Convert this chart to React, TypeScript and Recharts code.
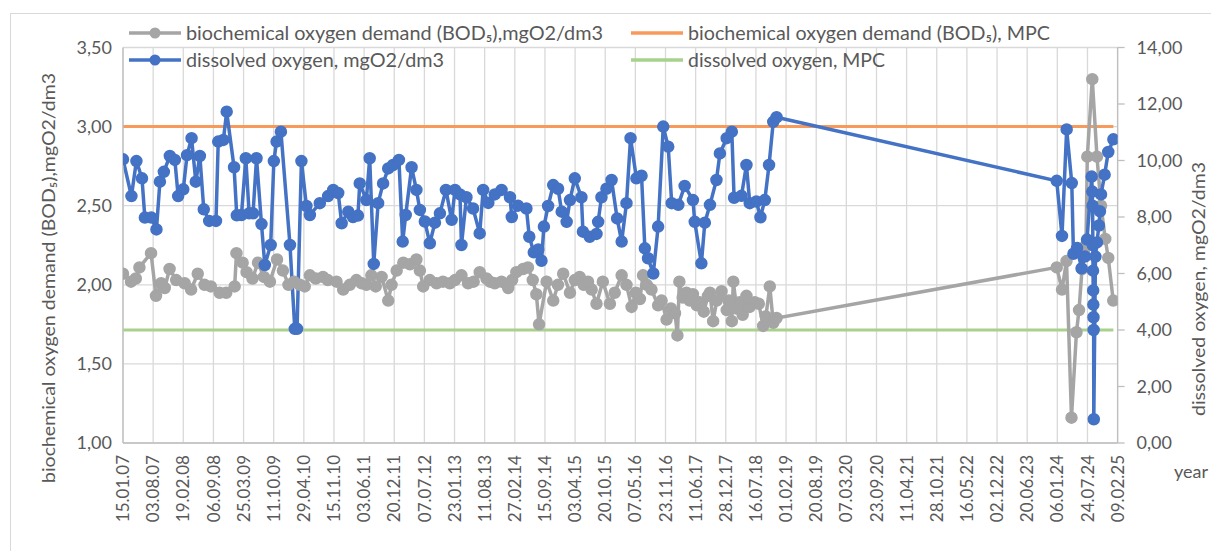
import React from "react";
import { LineChart, Line, XAxis, YAxis, CartesianGrid } from "recharts";

// ---------- data ----------
const xTickLabels = [
  "15.01.07", "03.08.07", "19.02.08", "06.09.08", "25.03.09", "11.10.09", "29.04.10",
  "15.11.10", "03.06.11", "20.12.11", "07.07.12", "23.01.13", "11.08.13", "27.02.14",
  "15.09.14", "03.04.15", "20.10.15", "07.05.16", "23.11.16", "11.06.17", "28.12.17",
  "16.07.18", "01.02.19", "20.08.19", "07.03.20", "23.09.20", "11.04.21", "28.10.21",
  "16.05.22", "02.12.22", "20.06.23", "06.01.24", "24.07.24", "09.02.25",
];
const leftTicks = [1, 1.5, 2, 2.5, 3, 3.5];
const rightTicks = [0, 2, 4, 6, 8, 10, 12, 14];

// dissolved oxygen, mgO2/dm3 (right axis)
const doDates = [
  "2007-01-15", "2007-03-12", "2007-04-14", "2007-05-21", "2007-06-09", "2007-07-22", "2007-08-25",
  "2007-09-17", "2007-10-13", "2007-11-22", "2007-12-25", "2008-01-16", "2008-02-19", "2008-03-15",
  "2008-04-14", "2008-05-12", "2008-06-08", "2008-07-04", "2008-08-09", "2008-09-23", "2008-10-08",
  "2008-11-11", "2008-12-03", "2009-01-21", "2009-02-08", "2009-03-11", "2009-04-09", "2009-05-01",
  "2009-05-27", "2009-06-19", "2009-07-22", "2009-08-13", "2009-09-21", "2009-10-12", "2009-10-30",
  "2009-11-28", "2010-01-27", "2010-02-28", "2010-03-15", "2010-04-13", "2010-05-16", "2010-06-08",
  "2010-08-13", "2010-10-07", "2010-11-10", "2010-12-13", "2011-01-05", "2011-02-18", "2011-03-21",
  "2011-04-23", "2011-05-05", "2011-06-18", "2011-07-10", "2011-08-06", "2011-09-04", "2011-10-07",
  "2011-11-10", "2011-12-12", "2012-01-20", "2012-02-14", "2012-03-05", "2012-04-13", "2012-05-15",
  "2012-06-07", "2012-07-10", "2012-08-12", "2012-09-15", "2012-10-18", "2012-11-27", "2013-01-04",
  "2013-01-26", "2013-02-28", "2013-03-10", "2013-04-12", "2013-05-26", "2013-07-09", "2013-08-01",
  "2013-09-04", "2013-10-17", "2013-12-01", "2014-01-26", "2014-02-07", "2014-03-20", "2014-05-15",
  "2014-06-03", "2014-07-03", "2014-08-02", "2014-08-23", "2014-09-08", "2014-10-06", "2014-11-09",
  "2014-12-11", "2015-01-04", "2015-02-06", "2015-02-28", "2015-04-01", "2015-05-15", "2015-05-25",
  "2015-07-09", "2015-08-23", "2015-09-03", "2015-09-25", "2015-10-28", "2015-12-01", "2016-01-07",
  "2016-02-06", "2016-03-09", "2016-04-05", "2016-05-14", "2016-06-17", "2016-07-09", "2016-07-30",
  "2016-09-03", "2016-10-05", "2016-11-08", "2016-12-11", "2017-01-03", "2017-02-16", "2017-03-30",
  "2017-05-24", "2017-06-05", "2017-07-19", "2017-08-11", "2017-09-14", "2017-10-27", "2017-11-19",
  "2018-01-03", "2018-02-06", "2018-02-21", "2018-04-11", "2018-05-14", "2018-06-05", "2018-07-19",
  "2018-08-15", "2018-09-13", "2018-10-11", "2018-11-08", "2018-11-30",
  "2024-01-02", "2024-02-06", "2024-03-08", "2024-04-11", "2024-04-22", "2024-05-16", "2024-06-15",
  "2024-07-07", "2024-07-21", "2024-08-21", "2024-08-25", "2024-08-27", "2024-08-29", "2024-08-30",
  "2024-08-31", "2024-09-01", "2024-09-02", "2024-09-03", "2024-09-04", "2024-09-15", "2024-09-25",
  "2024-10-08", "2024-10-15", "2024-10-22", "2024-11-15", "2024-12-09", "2025-01-12",
];
const doValues = [
  10.04, 8.74, 9.98, 9.37, 7.98, 7.98, 7.56,
  9.25, 9.6, 10.16, 10.02, 8.74, 8.98, 10.19,
  10.79, 9.25, 10.16, 8.27, 7.86, 7.86, 10.67,
  10.73, 11.73, 9.76, 8.06, 8.07, 10.08, 8.13,
  8.13, 10.08, 7.75, 6.3, 7.01, 9.98, 10.67,
  11.02, 7.01, 4.04, 4.04, 9.98, 8.39, 8.07,
  8.49, 8.74, 8.96, 8.85, 7.78, 8.19, 8.0,
  8.05, 9.19, 8.6, 10.08, 6.34, 8.49, 9.19,
  9.72, 9.84, 10.02, 7.13, 8.07, 9.76, 8.96,
  8.25, 7.84, 7.07, 7.8, 8.13, 8.96, 7.9,
  8.96, 8.8, 7.01, 8.7, 8.3, 7.42, 8.96,
  8.5, 8.8, 8.96, 8.7, 8.0, 8.4, 8.3,
  7.3, 6.75, 6.85, 6.45, 7.66, 8.39, 9.13,
  9.0, 8.19, 7.83, 8.6, 9.37, 8.7, 7.48,
  7.3, 7.4, 7.83, 8.7, 9.0, 9.31, 7.95,
  7.13, 8.49, 10.79, 9.37, 9.46, 6.89, 6.54,
  6.0, 7.66, 11.2, 10.49, 8.49, 8.43, 9.1,
  8.6, 7.83, 6.36, 7.8, 8.43, 9.31, 10.25,
  10.79, 11.02, 8.68, 8.75, 9.84, 8.49, 8.55,
  7.99, 8.6, 9.84, 11.37, 11.53,
  9.28, 7.33, 11.1, 9.2, 6.7, 6.9, 6.18,
  6.6, 7.2, 9.43, 8.9, 8.4, 7.0, 6.1,
  5.4, 4.9, 4.45, 4.0, 0.84, 6.6, 7.1,
  7.7, 8.2, 8.8, 9.5, 10.3, 10.75,
];

// biochemical oxygen demand (BOD5), mgO2/dm3 (left axis)
const bodDates = [
  "2007-01-15", "2007-03-09", "2007-04-10", "2007-05-04", "2007-07-20", "2007-08-22", "2007-09-25",
  "2007-10-19", "2007-11-20", "2008-01-03", "2008-02-28", "2008-04-11", "2008-05-25", "2008-07-09",
  "2008-08-20", "2008-10-17", "2008-11-30", "2009-01-25", "2009-02-06", "2009-03-19", "2009-04-14",
  "2009-05-23", "2009-06-29", "2009-08-07", "2009-09-16", "2009-11-02", "2009-12-11", "2010-01-17",
  "2010-02-23", "2010-04-02", "2010-05-05", "2010-06-08", "2010-07-17", "2010-09-03", "2010-10-05",
  "2010-12-02", "2011-01-15", "2011-02-28", "2011-04-13", "2011-05-18", "2011-06-18", "2011-07-21",
  "2011-08-19", "2011-09-27", "2011-11-10", "2011-12-02", "2012-01-05", "2012-02-18", "2012-04-02",
  "2012-05-15", "2012-06-07", "2012-06-29", "2012-08-12", "2012-09-26", "2012-11-07", "2012-12-23",
  "2013-01-26", "2013-03-10", "2013-04-23", "2013-05-30", "2013-07-09", "2013-08-23", "2013-09-15",
  "2013-10-17", "2013-12-01", "2014-01-14", "2014-02-09", "2014-03-09", "2014-04-23", "2014-05-25",
  "2014-06-26", "2014-07-20", "2014-08-07", "2014-09-26", "2014-11-09", "2014-12-10", "2015-01-14",
  "2015-02-28", "2015-04-01", "2015-05-03", "2015-05-30", "2015-06-28", "2015-07-22", "2015-08-23",
  "2015-10-04", "2015-11-20", "2015-12-22", "2016-02-06", "2016-03-09", "2016-04-12", "2016-05-10",
  "2016-06-06", "2016-06-27", "2016-07-22", "2016-08-22", "2016-10-05", "2016-10-28", "2016-11-30",
  "2016-12-29", "2017-01-25", "2017-02-10", "2017-02-23", "2017-03-17", "2017-04-11", "2017-05-03",
  "2017-05-24", "2017-06-19", "2017-07-08", "2017-08-04", "2017-09-01", "2017-09-14", "2017-10-05",
  "2017-10-29", "2017-11-30", "2018-01-03", "2018-01-18", "2018-02-06", "2018-02-16", "2018-03-10",
  "2018-03-30", "2018-04-19", "2018-05-14", "2018-06-05", "2018-07-08", "2018-08-04", "2018-09-02",
  "2018-09-20", "2018-10-16", "2018-11-08", "2018-11-30",
  "2024-01-02", "2024-02-06", "2024-03-07", "2024-04-09", "2024-05-12", "2024-05-29", "2024-06-18",
  "2024-07-01", "2024-07-14", "2024-07-23", "2024-08-25", "2024-09-25", "2024-10-22", "2024-11-19",
  "2024-12-09", "2025-01-11",
];
const bodValues = [
  2.07, 2.02, 2.04, 2.11, 2.2, 1.93, 2.01,
  1.98, 2.1, 2.03, 2.01, 1.97, 2.07, 2.0,
  1.99, 1.95, 1.95, 1.99, 2.2, 2.14, 2.08,
  2.04, 2.14, 2.05, 2.02, 2.16, 2.09, 2.0,
  2.02, 2.0, 1.99, 2.06, 2.04, 2.05, 2.03,
  2.02, 1.97, 2.0, 2.03, 2.01, 2.0, 2.06,
  1.99, 2.05, 1.9, 2.0, 2.09, 2.14, 2.13,
  2.16, 2.09, 1.99, 2.03, 2.01, 2.02, 2.01,
  2.03, 2.06, 2.01, 2.02, 2.08, 2.04, 2.02,
  2.01, 2.02, 1.98, 2.03, 2.08, 2.1, 2.11,
  2.03, 1.94, 1.75, 2.02, 1.9, 2.0, 2.07,
  1.95, 2.03, 2.05, 2.0, 2.02, 1.97, 1.88,
  2.02, 1.88, 1.95, 2.06, 2.0, 1.86, 1.95,
  1.91, 2.06, 2.0, 1.97, 1.87, 1.9, 1.78,
  1.85, 1.82, 1.68, 2.02, 1.92, 1.95, 1.9,
  1.94, 1.87, 1.89, 1.83, 1.93, 1.95, 1.77,
  1.9, 1.96, 1.84, 1.9, 1.77, 2.02, 1.85,
  1.89, 1.81, 1.93, 1.86, 1.89, 1.88, 1.74,
  1.8, 1.99, 1.76, 1.79,
  2.11, 1.97, 2.15, 1.16, 1.7, 1.84, 2.1,
  2.2, 2.25, 2.81, 3.3, 2.81, 2.5, 2.29,
  2.17, 1.9,
];

// maximum permissible concentrations
const mpcDates = ["2007-01-15", "2025-01-12"];
const bodMpcValues = [3.0, 3.0];
const doMpcValues = [4.0, 4.0];

// ---------- helpers ----------
const GRAY = "#A5A5A5";
const BLUE = "#4472C4";
const ORANGE = "#F79A5B";
const GREEN = "#A9D18E";
const TEXT = "#595959";
const FONT = "Lato, 'Open Sans', sans-serif";

const parseTick = (s: string) => {
  const [d, m, y] = s.split(".").map(Number);
  return Date.UTC(2000 + y, m - 1, d);
};
const xTicks = xTickLabels.map(parseTick);
const labelByTick = new Map<number, string>(xTicks.map((t, i) => [t, xTickLabels[i]]));

const zip = (dates: string[], values: number[]) =>
  dates.map((d, i) => ({ t: Date.parse(d), v: values[i] }));

const doData = zip(doDates, doValues);
const bodData = zip(bodDates, bodValues);
const bodMpcData = zip(mpcDates, bodMpcValues);
const doMpcData = zip(mpcDates, doMpcValues);

const fmt = (v: number) => v.toFixed(2).replace(".", ",");

const XTick = (props: any) => {
  const { x, y, payload } = props;
  return (
    <text
      x={x}
      y={y}
      transform={`rotate(-90 ${x} ${y})`}
      textAnchor="end"
      dy="0.36em"
      fill={TEXT}
      fontSize={17}
      fontFamily={FONT}
    >
      {labelByTick.get(payload.value) ?? ""}
    </text>
  );
};

const LegendRow = ({ y, items }: { y: number; items: { x: number; color: string; dot: boolean; label: string; len: number }[] }) => (
  <g>
    {items.map((it, i) => (
      <g key={i}>
        <line x1={it.x} x2={it.x + 52} y1={y} y2={y} stroke={it.color} strokeWidth={3.5} />
        {it.dot && <circle cx={it.x + 26} cy={y} r={5.5} fill={it.color} />}
        <text
          x={it.x + 57}
          y={y}
          dy="0.35em"
          fill={TEXT}
          fontSize={19}
          fontFamily={FONT}
          textLength={it.len}
          lengthAdjust="spacingAndGlyphs"
        >
          {it.label}
        </text>
      </g>
    ))}
  </g>
);

export default function App() {
  return (
    <div
      style={{
        position: "absolute",
        left: 0,
        top: 0,
        width: 1211,
        height: 551,
        overflow: "hidden",
        background: "#fff",
      }}
    >
      <div
        style={{
          position: "absolute",
          left: 10,
          top: 13,
          width: 1400,
          height: 800,
          border: "1px solid #D9D9D9",
          boxSizing: "border-box",
        }}
      />
      <div style={{ position: "absolute", left: 0, top: 0 }}>
        <LineChart
          width={1211}
          height={551}
          margin={{ top: 47.5, right: 33.4, bottom: 18, left: 63 }}
        >
          <CartesianGrid stroke="#D9D9D9" strokeWidth={1.3} yAxisId="left" />
          <XAxis
            dataKey="t"
            type="number"
            domain={[xTicks[0], xTicks[xTicks.length - 1]]}
            ticks={xTicks}
            interval={0}
            allowDataOverflow
            height={90}
            tickLine={false}
            tickSize={0}
            tickMargin={12}
            stroke="#BFBFBF"
            strokeWidth={1.3}
            tick={<XTick />}
          />
          <YAxis
            yAxisId="left"
            orientation="left"
            width={60}
            domain={[1, 3.5]}
            ticks={leftTicks}
            interval={0}
            tickFormatter={fmt}
            tickLine={false}
            tickSize={0}
            tickMargin={11}
            stroke="#BFBFBF"
            strokeWidth={1.3}
            tick={{ fill: TEXT, fontSize: 18, fontFamily: FONT }}
          />
          <YAxis
            yAxisId="right"
            orientation="right"
            width={60}
            domain={[0, 14]}
            ticks={rightTicks}
            interval={0}
            tickFormatter={fmt}
            tickSize={7}
            tickMargin={12}
            stroke="#BFBFBF"
            strokeWidth={1.3}
            tick={{ fill: TEXT, fontSize: 18, fontFamily: FONT }}
          />
          <Line
            data={bodMpcData}
            dataKey="v"
            yAxisId="left"
            type="linear"
            stroke={ORANGE}
            strokeWidth={3}
            dot={false}
            isAnimationActive={false}
            name="biochemical oxygen demand (BOD₅), MPC"
          />
          <Line
            data={doMpcData}
            dataKey="v"
            yAxisId="right"
            type="linear"
            stroke={GREEN}
            strokeWidth={3}
            dot={false}
            isAnimationActive={false}
            name="dissolved oxygen, MPC"
          />
          <Line
            data={bodData}
            dataKey="v"
            yAxisId="left"
            type="linear"
            stroke={GRAY}
            strokeWidth={3.5}
            dot={{ r: 5.5, fill: GRAY, stroke: GRAY, strokeWidth: 1.5 }}
            isAnimationActive={false}
            name="biochemical oxygen demand (BOD₅),mgO2/dm3"
          />
          <Line
            data={doData}
            dataKey="v"
            yAxisId="right"
            type="linear"
            stroke={BLUE}
            strokeWidth={3.5}
            dot={{ r: 5.5, fill: BLUE, stroke: BLUE, strokeWidth: 1.5 }}
            isAnimationActive={false}
            name="dissolved oxygen, mgO2/dm3"
          />
        </LineChart>
      </div>
      <svg
        width={1211}
        height={551}
        style={{ position: "absolute", left: 0, top: 0, pointerEvents: "none" }}
      >
        <LegendRow
          y={33}
          items={[
            { x: 129, color: GRAY, dot: true, label: "biochemical oxygen demand (BOD₅),mgO2/dm3", len: 417 },
            { x: 631, color: ORANGE, dot: false, label: "biochemical oxygen demand (BOD₅), MPC", len: 362 },
          ]}
        />
        <LegendRow
          y={60}
          items={[
            { x: 129, color: BLUE, dot: true, label: "dissolved oxygen, mgO2/dm3", len: 258 },
            { x: 631, color: GREEN, dot: false, label: "dissolved oxygen, MPC", len: 197 },
          ]}
        />
        <text
          x={55}
          y={278}
          transform="rotate(-90 55 278)"
          textAnchor="middle"
          fill={TEXT}
          fontSize={18}
          fontFamily={FONT}
          textLength={410}
          lengthAdjust="spacingAndGlyphs"
        >
          biochemical oxygen demand (BOD₅),mgO2/dm3
        </text>
        <text
          x={1205}
          y={289}
          transform="rotate(-90 1205 289)"
          textAnchor="middle"
          fill={TEXT}
          fontSize={17}
          fontFamily={FONT}
          textLength={254}
          lengthAdjust="spacingAndGlyphs"
        >
          dissolved oxygen, mgO2/dm3
        </text>
        <text x={1174} y={478} fill={TEXT} fontSize={18} fontFamily={FONT}>
          year
        </text>
      </svg>
    </div>
  );
}
